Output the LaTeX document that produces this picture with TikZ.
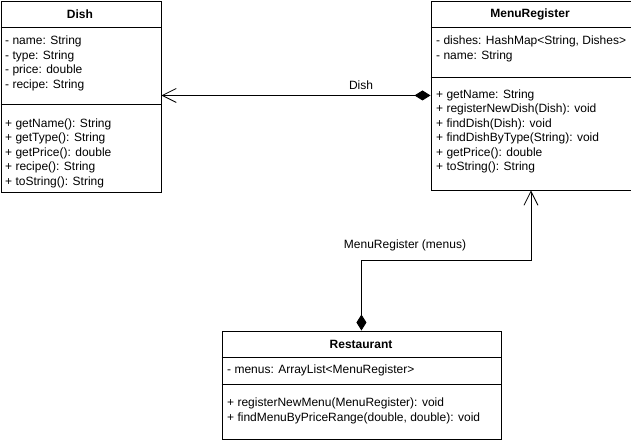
\documentclass[tikz,border=0pt]{standalone}
\usepackage{fontspec}
\setmainfont{Liberation Sans}
\usetikzlibrary{arrows.meta}
\begin{document}
\begin{tikzpicture}[x=1pt,y=-1pt,
  title/.style={font=\bfseries\fontsize{12}{14}\selectfont, inner sep=0pt},
  members/.style={anchor=north west, align=left, inner sep=0pt, font=\fontsize{12}{14.5}\selectfont},
  boxframe/.style={draw=black, line width=0.9pt, anchor=north west, inner sep=0pt},
  sep/.style={line width=0.9pt},
  lbl/.style={font=\fontsize{12}{14}\selectfont, inner sep=0pt},
  assoc/.style={line width=0.9pt, {Diamond[length=16pt,width=10pt]}-{Straight Barb[length=14pt,width=14pt,line width=0.8pt]}}
]
\useasboundingbox (0,0) rectangle (631,442);
\fill[white] (0,0) rectangle (631,442);

% Dish
\node[boxframe, minimum width=160pt, minimum height=191pt] (dish) at (0.5,0.5) {};
\node[title] (dishT) at (80,14) {Dish};
\draw[sep] (0.5,27) -- (160.5,27);
\draw[sep] (0.5,104) -- (160.5,104);
\node[members] (dishA) at (5,36) {- name: String\\- type: String\\- price: double\\- recipe: String};
\node[members] (dishM) at (5,118.5) {+ getName(): String\\+ getType(): String\\+ getPrice(): double\\+ recipe(): String\\+ toString(): String};

% MenuRegister
\node[boxframe, minimum width=200pt, minimum height=189pt] (mr) at (430.5,0.5) {};
\node[title] (mrT) at (530,14) {MenuRegister};
\draw[sep] (430.5,27) -- (630.5,27);
\draw[sep] (430.5,77) -- (630.5,77);
\node[members] (mrA) at (436,36) {- dishes: HashMap<String, Dishes>\\- name: String};
\node[members] (mrM) at (436,89.5) {+ getName: String\\+ registerNewDish(Dish): void\\+ findDish(Dish): void\\+ findDishByType(String): void\\+ getPrice(): double\\+ toString(): String};

% Restaurant
\node[boxframe, minimum width=279pt, minimum height=108pt] (rest) at (221.5,330.5) {};
\node[title] (restT) at (361,344) {Restaurant};
\draw[sep] (221.5,357) -- (500.5,357);
\draw[sep] (221.5,384) -- (500.5,384);
\node[members] (restA) at (227,365) {- menus: ArrayList<MenuRegister>};
\node[members] (restM) at (227,398) {+ registerNewMenu(MenuRegister): void\\+ findMenuByPriceRange(double, double): void};

% connectors
\draw[assoc] (mr.west) -- (mr.west -| dish.east);
\node[lbl] (l1) at (361,85) {Dish};
\draw[assoc] (rest.north) -- ++(0,-70) -| (mr.south);
\node[lbl] (l2) at (405,245) {MenuRegister (menus)};
\end{tikzpicture}
\end{document}
